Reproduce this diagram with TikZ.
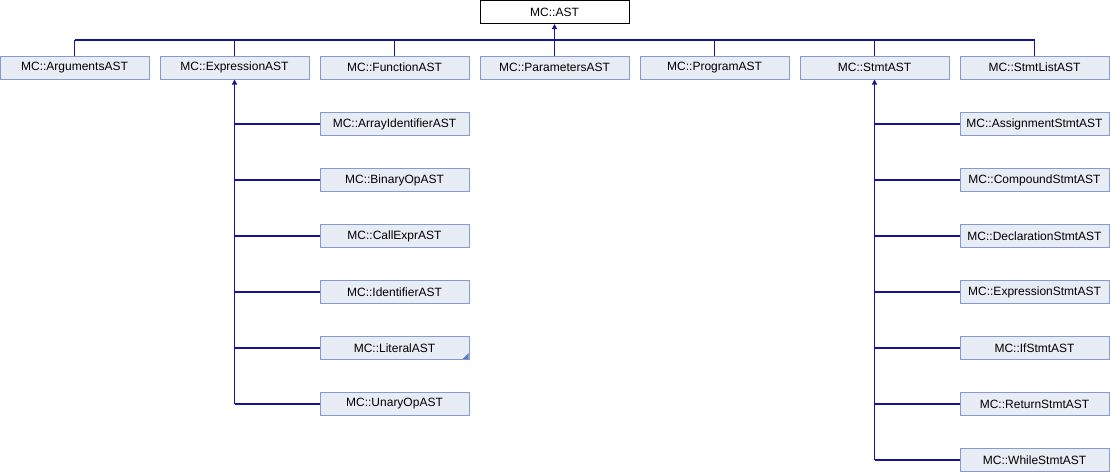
\documentclass[tikz,border=0pt]{standalone}
\usepackage{fontspec}
\setmainfont{Liberation Sans}
\usetikzlibrary{arrows.meta}
\definecolor{boxfill}{RGB}{232,236,244}
\definecolor{boxline}{RGB}{132,156,204}
\definecolor{edge}{RGB}{20,20,150}
\definecolor{moremark}{RGB}{96,124,192}
\begin{document}
\begin{tikzpicture}[x=1pt,y=-1pt,
  cls/.style={draw=boxline,fill=boxfill,line width=1pt,minimum width=149pt,minimum height=23pt,
    inner sep=0pt,font=\fontsize{12}{13}\selectfont},
  root/.style={cls,draw=black,fill=white},
  link/.style={draw=edge,line width=1.2pt},
  inherit/.style={link,-{Triangle[length=5pt,width=5pt]}}]
\useasboundingbox (0,0) rectangle (1110,472);

% base class
\node[root] (ast) at (554.5,12) {MC::AST};

% direct subclasses
\node[cls] (args)  at (74.5,67.5)  {MC::ArgumentsAST};
\node[cls] (expr)  at (234.5,67.5) {MC::ExpressionAST};
\node[cls] (func)  at (394.5,67.5) {MC::FunctionAST};
\node[cls] (params) at (554.5,67.5) {MC::ParametersAST};
\node[cls] (prog)  at (714.5,67.5) {MC::ProgramAST};
\node[cls] (stmt)  at (874.5,67.5) {MC::StmtAST};
\node[cls] (slist) at (1034.5,67.5) {MC::StmtListAST};

% expression subclasses
\node[cls] (arrid) at (394.5,124) {MC::ArrayIdentifierAST};
\node[cls] (binop) at (394.5,180) {MC::BinaryOpAST};
\node[cls] (call)  at (394.5,236) {MC::CallExprAST};
\node[cls] (ident) at (394.5,292) {MC::IdentifierAST};
\node[cls] (lit)   at (394.5,348) {MC::LiteralAST};
\node[cls] (unop)  at (394.5,404) {MC::UnaryOpAST};

% statement subclasses
\node[cls] (assign) at (1034.5,124) {MC::AssignmentStmtAST};
\node[cls] (comp)   at (1034.5,180) {MC::CompoundStmtAST};
\node[cls] (decl)   at (1034.5,236) {MC::DeclarationStmtAST};
\node[cls] (exprst) at (1034.5,292) {MC::ExpressionStmtAST};
\node[cls] (ifst)   at (1034.5,348) {MC::IfStmtAST};
\node[cls] (ret)    at (1034.5,404) {MC::ReturnStmtAST};
\node[cls] (while)  at (1034.5,460) {MC::WhileStmtAST};

% marker for hidden subclasses
\fill[moremark] ([xshift=-1pt,yshift=1pt]lit.south east) -- ([xshift=-7pt,yshift=1pt]lit.south east)
  -- ([xshift=-1pt,yshift=7pt]lit.south east) -- cycle;

% top-level inheritance bus
\coordinate (busL) at (74.5,40);
\coordinate (busR) at (1034.5,40);
\draw[inherit] (params.north) -- (ast.south);
\draw[link] (busL) -- (busR);
\foreach \n in {args,expr,func,prog,stmt,slist}
  \draw[link] (\n.north) -- (\n.north |- busL);

% expression subtree
\coordinate (eEnd) at (expr.south |- unop.west);
\draw[inherit] (eEnd) -- (expr.south);
\foreach \n in {arrid,binop,call,ident,lit,unop}
  \draw[link] (\n.west) -- (\n.west -| expr.south);

% statement subtree
\coordinate (sEnd) at (stmt.south |- while.west);
\draw[inherit] (sEnd) -- (stmt.south);
\foreach \n in {assign,comp,decl,exprst,ifst,ret,while}
  \draw[link] (\n.west) -- (\n.west -| stmt.south);
\end{tikzpicture}
\end{document}
